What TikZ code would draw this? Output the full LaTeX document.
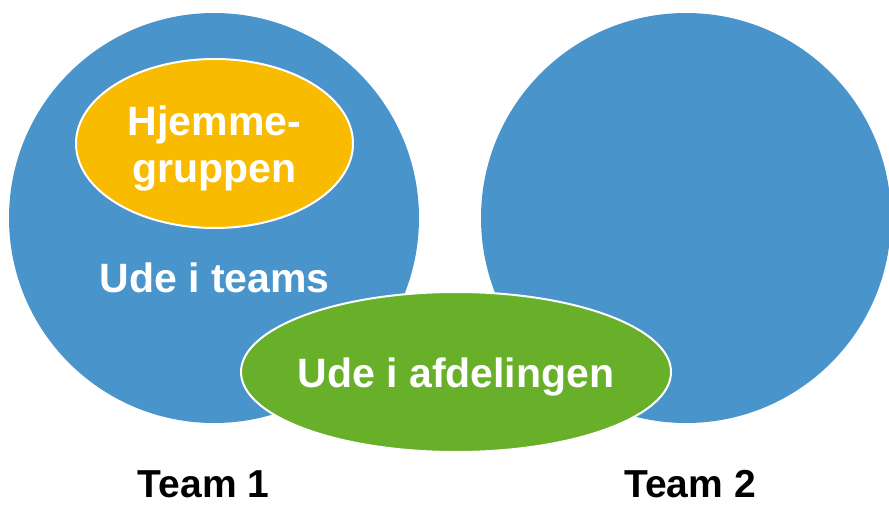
\documentclass[tikz,border=0pt]{standalone}
\usepackage{fontspec}
\setmainfont{Liberation Sans}
\usetikzlibrary{shapes.geometric}

\definecolor{teamblue}{HTML}{4994CB}
\definecolor{homeorange}{HTML}{F9BB00}
\definecolor{deptgreen}{HTML}{69B02A}

\begin{document}
\begin{tikzpicture}
[
	              x = 1pt, y = -1pt,
	   team/.style = { circle, fill=teamblue, minimum size=410pt, inner sep=0pt },
	  group/.style = { ellipse, draw=white, line width=2pt, inner sep=0pt },
	  label/.style = { anchor=base, align=center,
	                   font=\bfseries\fontsize{41}{47}\selectfont }
]
	\useasboundingbox (0,0) rectangle (889,506);

	% teams
	\node (T1) at (214,218) [team] {};
	\node (T2) at (686,218) [team] {};

	% groups
	\node (H) at (214.5,143.5) [group, fill=homeorange,
	      minimum width=277pt, minimum height=169pt] {};
	\node (HL) at (214.5,182) [label, text=white] {Hjemme-\\gruppen};
	\node (U) at (214.5,292) [label, text=white] {Ude i teams};
	\node (A) at (456,372) [group, fill=deptgreen,
	      minimum width=430pt, minimum height=160pt] {};
	\node (AL) at (456,387) [label, text=white] {Ude i afdelingen};

	% captions
	\node (C1) at (203.5,497) [label, font=\bfseries\fontsize{39}{45}\selectfont] {Team 1};
	\node (C2) at (690,497)   [label, font=\bfseries\fontsize{39}{45}\selectfont] {Team 2};
\end{tikzpicture}
\end{document}
